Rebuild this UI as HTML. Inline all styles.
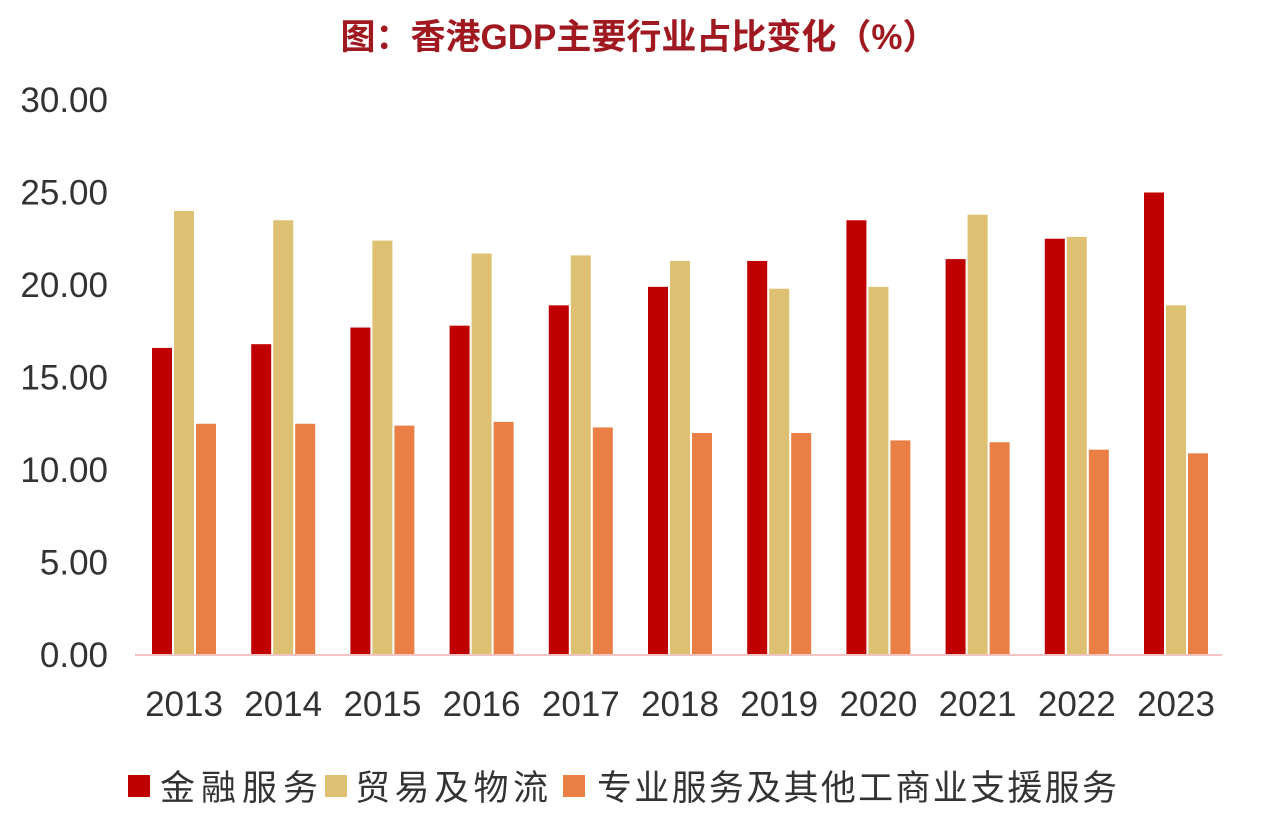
<!DOCTYPE html>
<html><head><meta charset="utf-8">
<style>
body{margin:0;background:#fff;width:1267px;height:823px;overflow:hidden;font-family:"Liberation Sans","Noto Sans CJK SC",sans-serif;}
svg text{font-family:"Liberation Sans","Noto Sans CJK SC",sans-serif;}
</style></head><body>
<svg id="chart" width="1267" height="823" xmlns="http://www.w3.org/2000/svg">
<text x="639" y="49" text-anchor="middle" font-size="35" font-weight="bold" fill="#A01820">图：香港GDP主要行业占比变化（%）</text>
<g id="yaxis"></g>
<g id="bars"></g>
<line x1="135" y1="655" x2="1222" y2="655" stroke="#F2C4C4" stroke-width="2"/>
<g id="xaxis"></g>
<g>
<rect x="128" y="775" width="22" height="22" fill="#C00000"/>
<text x="160" y="800" font-size="35" fill="#333" textLength="158">金融服务</text>
<rect x="325" y="775" width="22" height="22" fill="#DDC072"/>
<text x="355" y="800" font-size="35" fill="#333" textLength="193">贸易及物流</text>
<rect x="563" y="775" width="22" height="22" fill="#E97F45"/>
<text x="597" y="800" font-size="35" fill="#333" textLength="520">专业服务及其他工商业支援服务</text>
</g>
</svg>
<script>
const categories=["2013","2014","2015","2016","2017","2018","2019","2020","2021","2022","2023"];
const finance=[16.6,16.8,17.7,17.8,18.9,19.9,21.3,23.5,21.4,22.5,25.0];
const trade=[24.0,23.5,22.4,21.7,21.6,21.3,19.8,19.9,23.8,22.6,18.9];
const professional=[12.5,12.5,12.4,12.6,12.3,12.0,12.0,11.6,11.5,11.1,10.9];
const yTicks=[0,5,10,15,20,25,30];
const NS="http://www.w3.org/2000/svg";
const y=v=>655-v*18.5;
const x=i=>184+i*99.2;
const yax=document.getElementById('yaxis');
yTicks.forEach(t=>{
  const el=document.createElementNS(NS,'text');
  
  
  el.setAttribute('x',108);el.setAttribute('y',y(t)+12);
  el.setAttribute('text-anchor','end');el.setAttribute('font-size','35');el.setAttribute('fill','#333');
  el.textContent=t.toFixed(2);yax.appendChild(el);
});
const bars=document.getElementById('bars');
const series=[[finance,'#C00000','finance',-32],[trade,'#DDC072','trade',-10],[professional,'#E97F45','professional',12]];
series.forEach(([vals,col,nm,off])=>{
  vals.forEach((v,i)=>{
    const r=document.createElementNS(NS,'rect');
    
    
    r.setAttribute('x',x(i)+off);r.setAttribute('width',20);
    r.setAttribute('y',y(v));r.setAttribute('height',655-y(v));
    r.setAttribute('fill',col);bars.appendChild(r);
  });
});
const xax=document.getElementById('xaxis');
categories.forEach((c,i)=>{
  const el=document.createElementNS(NS,'text');
  
  
  el.setAttribute('x',x(i));el.setAttribute('y',716);
  el.setAttribute('text-anchor','middle');el.setAttribute('font-size','35');el.setAttribute('fill','#333');
  el.textContent=c;xax.appendChild(el);
});
</script>
</body></html>
